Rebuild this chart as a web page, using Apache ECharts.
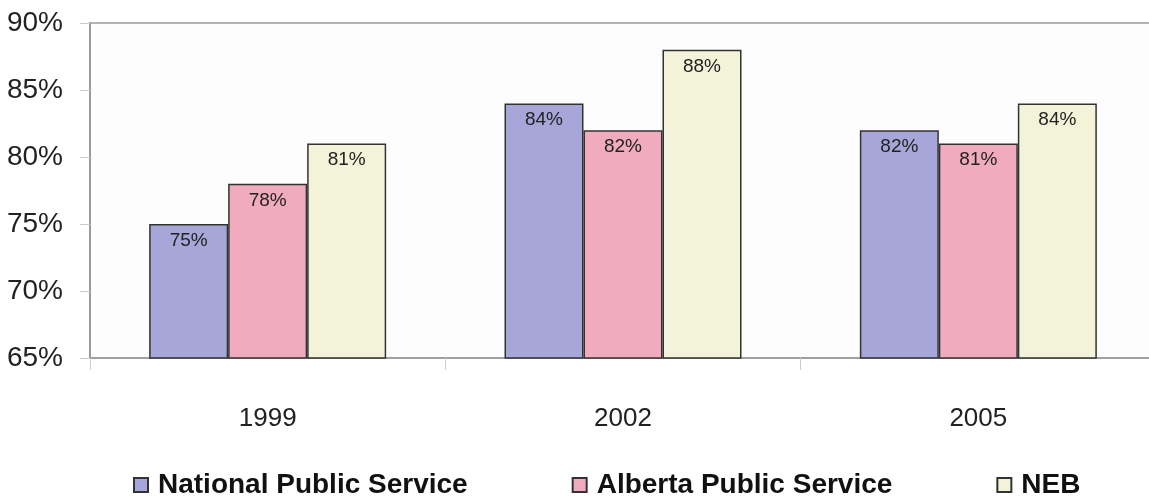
<!DOCTYPE html>
<html>
<head>
<meta charset="utf-8">
<script src="https://cdn.jsdelivr.net/npm/echarts@6/dist/echarts.min.js"></script>
<style>
  html, body { margin: 0; padding: 0; background: #ffffff; overflow: hidden; }
  #chart { width: 1170px; height: 497px; }
</style>
</head>
<body>
<div id="chart"></div>
<script>
// Survey years and the share (%) for each group
const years = ['1999', '2002', '2005'];
const seriesNames = ['National Public Service', 'Alberta Public Service', 'NEB'];
const nationalPS = [75, 84, 82];
const albertaPS = [78, 82, 81];
const neb = [81, 88, 84];
const yTicks = [65, 70, 75, 80, 85, 90];

const colors = ['#a7a6d9', '#f1abbe', '#f3f3d9'];
const font = 'Arial, "Liberation Sans", sans-serif';

function barSeries(name, data, color) {
  return {
    name: name,
    type: 'bar',
    data: data,
    barWidth: 79,
    barGap: '0%',
    itemStyle: { color: color, borderColor: '#333333', borderWidth: 1.5 },
    label: {
      show: true,
      position: 'insideTop',
      distance: 7,
      formatter: p => p.value + '%',
      fontFamily: font,
      fontSize: 19,
      color: '#222222'
    }
  };
}

const chart = echarts.init(document.getElementById('chart'), null, { renderer: 'canvas' });
chart.setOption({
  backgroundColor: '#ffffff',
  animation: false,
  grid: {
    left: 90, top: 23, width: 1066, height: 335,
    show: true, borderColor: '#9a9a9a', borderWidth: 1.5, backgroundColor: '#fdfdfd'
  },
  legend: {
    data: seriesNames,
    left: 128, top: 466,
    icon: 'rect',
    itemWidth: 14, itemHeight: 14,
    itemGap: 104,
    textStyle: { fontFamily: font, fontSize: 28, fontWeight: 'bold', color: '#111111', padding: [0, 0, 0, 5] }
  },
  xAxis: {
    type: 'category',
    data: years,
    axisLine: { lineStyle: { color: '#9a9a9a', width: 1.5 } },
    axisTick: { show: true, length: 12, lineStyle: { color: '#cccccc' } },
    axisLabel: { fontFamily: font, fontSize: 26, color: '#222222', margin: 48 }
  },
  yAxis: {
    type: 'value',
    min: yTicks[0], max: yTicks[yTicks.length - 1], interval: 5,
    axisLine: { show: true, lineStyle: { color: '#9a9a9a', width: 2 } },
    axisTick: { show: true, length: 10, lineStyle: { color: '#cccccc' } },
    splitLine: { show: false },
    axisLabel: { fontFamily: font, fontSize: 28, color: '#222222', margin: 27, formatter: v => v + '%' }
  },
  series: [
    barSeries(seriesNames[0], nationalPS, colors[0]),
    barSeries(seriesNames[1], albertaPS, colors[1]),
    barSeries(seriesNames[2], neb, colors[2])
  ]
});
</script>
</body>
</html>
